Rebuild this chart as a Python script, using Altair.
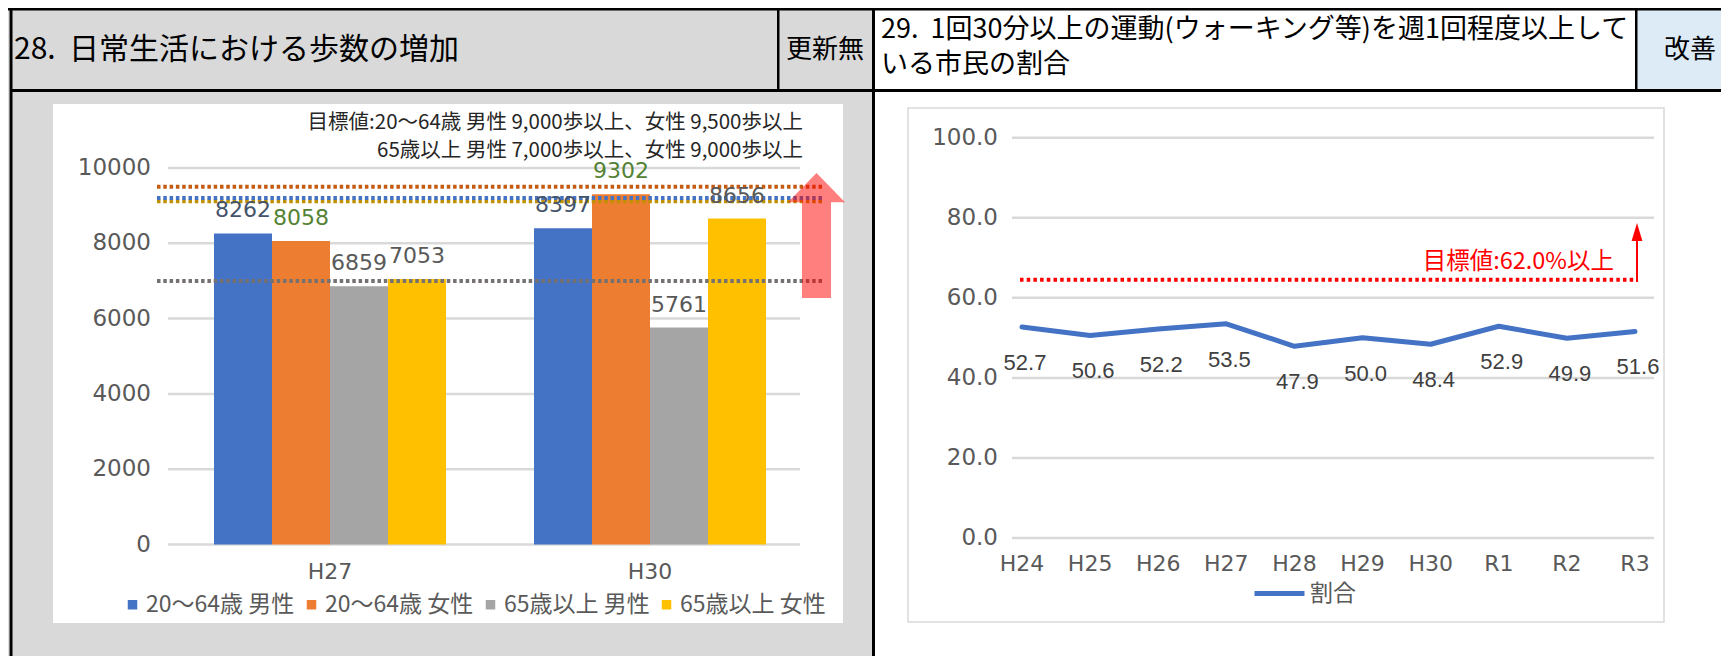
import altair as alt
import pandas as pd

# ---------------- texts ----------------
TITLE_LEFT = "28.\u00a0\u00a0日常生活における歩数の増加"
STATUS_LEFT = "更新無"
TITLE_RIGHT_1 = "29.\u00a0\u00a01回30分以上の運動(ウォーキング等)を週1回程度以上して"
TITLE_RIGHT_2 = "いる市民の割合"
STATUS_RIGHT = "改善"
NOTE_LEFT_1 = "目標値:20～64歳 男性 9,000歩以上、女性 9,500歩以上"
NOTE_LEFT_2 = "65歳以上 男性 7,000歩以上、女性 9,000歩以上"
NOTE_RIGHT = "目標値:62.0%以上"

# ---------------- left chart data ----------------
bar_years = ["H27", "H30"]
bar_series = ["20～64歳 男性", "20～64歳 女性", "65歳以上 男性", "65歳以上 女性"]
steps_h27 = [8262, 8058, 6859, 7053]
steps_h30 = [8397, 9302, 5761, 8656]
bar_colors = ["#4472c4", "#ed7d31", "#a5a5a5", "#ffc000"]
bar_label_colors = ["#44546a", "#548235", "#595959", "#595959"]
step_ticks = [0, 2000, 4000, 6000, 8000, 10000]
# dotted target lines as drawn (orange, gold, blue, gray)
step_target_values = [9500, 9120, 9200, 7000]
step_target_colors = ["#c55a11", "#bf9000", "#4472c4", "#767171"]

# ---------------- right chart data ----------------
line_years = ["H24", "H25", "H26", "H27", "H28", "H29", "H30", "R1", "R2", "R3"]
line_values = [52.7, 50.6, 52.2, 53.5, 47.9, 50.0, 48.4, 52.9, 49.9, 51.6]
line_series = ["割合"]
line_ticks = [0, 20, 40, 60, 80, 100]
line_target_drawn = [64.5]

FONT_JP = "Noto Sans CJK JP"
FONT_NUM = "DejaVu Sans"
FONT_LBL = "Liberation Sans"
W, H = 1713, 648

one = pd.DataFrame({"k": [0]})


def rect(x, x2, y, y2, **kw):
    return alt.Chart(one).mark_rect(**kw).encode(
        x=alt.value(x), x2=alt.value(x2), y=alt.value(y), y2=alt.value(y2))


def label(text, x, y, **kw):
    return alt.Chart(one).mark_text(text=text, **kw).encode(
        x=alt.value(x), y=alt.value(y))


# ---------------- frames ----------------
df_bars = pd.DataFrame({
    "year": [bar_years[0]] * 4 + [bar_years[1]] * 4,
    "series": bar_series * 2,
    "steps": steps_h27 + steps_h30,
    "lc": bar_label_colors * 2,
})
df_step_ticks = pd.DataFrame({"tick": step_ticks})
df_step_targets = pd.DataFrame({"target": step_target_values, "tc": step_target_colors})
df_bar_years = pd.DataFrame({"year": bar_years})

df_line = pd.DataFrame({"year": line_years, "value": line_values,
                        "name": line_series * len(line_years)})
df_line_ticks = pd.DataFrame({"tick": line_ticks})
df_line_years = pd.DataFrame({"year": line_years})
df_line_target = pd.DataFrame({"target": line_target_drawn})

# ---------------- decorations ----------------
decor = [
    rect(2, 867, 0, H, fill="#d9d9d9", strokeWidth=0),
    rect(1629, W, 0, 83, fill="#ddebf7", strokeWidth=0),
    rect(45, 835, 96, 615, fill="white", strokeWidth=0),
    rect(900, 1656, 100, 614, fill="white", stroke="#d9d9d9", strokeWidth=1.5),
    rect(0, W, 0, 2.5, fill="black", strokeWidth=0),
    rect(1.5, 4.5, 0, H, fill="black", strokeWidth=0),
    rect(2, W, 81, 84, fill="black", strokeWidth=0),
    rect(769, 771.5, 0, 83, fill="black", strokeWidth=0),
    rect(864, 867, 0, H, fill="black", strokeWidth=0),
    rect(1627, 1629.5, 0, 83, fill="black", strokeWidth=0),
    label(TITLE_LEFT, 6, 42, align="left", baseline="middle", fontSize=30, font=FONT_JP, color="#000000"),
    label(STATUS_LEFT, 817, 42, align="center", baseline="middle", fontSize=26, font=FONT_JP, color="#000000"),
    label(TITLE_RIGHT_1, 873, 22, align="left", baseline="middle", fontSize=27, font=FONT_JP, color="#000000"),
    label(TITLE_RIGHT_2, 873, 57, align="left", baseline="middle", fontSize=27, font=FONT_JP, color="#000000"),
    label(STATUS_RIGHT, 1682, 42, align="center", baseline="middle", fontSize=26, font=FONT_JP, color="#000000"),
]

# ---------------- left chart ----------------
xs_l = alt.Scale(domain=bar_years, range=[162, 802], paddingInner=0.275, paddingOuter=0.1375)
ys_l = alt.Scale(domain=[0, 10000], range=[536.5, 160], nice=False, zero=True)
xo_l = alt.Scale(domain=bar_series, paddingInner=0, paddingOuter=0)

grid_l = alt.Chart(df_step_ticks).mark_rule(color="#d9d9d9", strokeWidth=2.5).encode(
    y=alt.Y("tick:Q", scale=ys_l, axis=None), x=alt.value(160), x2=alt.value(792))
ticks_l = alt.Chart(df_step_ticks).mark_text(
    align="right", baseline="middle", font=FONT_NUM, fontSize=23, color="#595959").encode(
    y=alt.Y("tick:Q", scale=ys_l, axis=None), x=alt.value(143),
    text=alt.Text("tick:Q", format="d"))
bars = alt.Chart(df_bars).mark_bar(strokeWidth=0).encode(
    x=alt.X("year:N", scale=xs_l, axis=None),
    xOffset=alt.XOffset("series:N", scale=xo_l),
    y=alt.Y("steps:Q", scale=ys_l, axis=None),
    color=alt.Color("series:N", scale=alt.Scale(domain=bar_series, range=bar_colors),
                    legend=alt.Legend(orient="none", legendX=113, legendY=585, direction="horizontal",
                                      title=None, symbolType="square", symbolSize=90,
                                      symbolStrokeWidth=0, labelFont=FONT_JP, labelFontSize=23,
                                      labelColor="#595959", columnPadding=5, labelOffset=2,
                                      padding=0)),
)
bar_labels = alt.Chart(df_bars).mark_text(
    font=FONT_NUM, fontSize=22, baseline="alphabetic", dy=-16).encode(
    x=alt.X("year:N", scale=xs_l, axis=None),
    xOffset=alt.XOffset("series:N", scale=xo_l),
    y=alt.Y("steps:Q", scale=ys_l, axis=None),
    text=alt.Text("steps:Q", format="d"),
    color=alt.Color("lc:N", scale=None),
)
targets_l = alt.Chart(df_step_targets).mark_rule(strokeWidth=4, strokeDash=[3.5, 2.8], strokeCap="butt").encode(
    y=alt.Y("target:Q", scale=ys_l, axis=None), x=alt.value(149), x2=alt.value(815),
    stroke=alt.Stroke("tc:N", scale=None))
cats_l = alt.Chart(df_bar_years).mark_text(
    font=FONT_NUM, fontSize=22, color="#595959", baseline="middle").encode(
    x=alt.X("year:N", scale=xs_l, axis=None), y=alt.value(564), text="year:N")
arrow_path = "M0,-2.19 L1,-1.17 L0.51,-1.17 L0.51,2.19 L-0.51,2.19 L-0.51,-1.17 L-1,-1.17 Z"
big_arrow = alt.Chart(one).mark_point(shape=arrow_path, size=3249, filled=True,
                                      color="#ff0000", opacity=0.5, strokeWidth=0).encode(
    x=alt.value(808.5), y=alt.value(227.5))
notes_l = [
    label(NOTE_LEFT_1, 795, 115, align="right", baseline="middle", fontSize=20.5, font=FONT_JP, color="#262626"),
    label(NOTE_LEFT_2, 795, 143, align="right", baseline="middle", fontSize=20.5, font=FONT_JP, color="#262626"),
]
left = alt.layer(grid_l, ticks_l, bars, targets_l, bar_labels, cats_l, big_arrow, *notes_l)

# ---------------- right chart ----------------
xs_r = alt.Scale(type="point", domain=line_years, range=[1014, 1627], padding=0)
ys_r = alt.Scale(domain=[0, 100], range=[530, 129.7], nice=False, zero=True)

grid_r = alt.Chart(df_line_ticks).mark_rule(color="#d9d9d9", strokeWidth=2.5).encode(
    y=alt.Y("tick:Q", scale=ys_r, axis=None), x=alt.value(1004), x2=alt.value(1646))
ticks_r = alt.Chart(df_line_ticks).mark_text(
    align="right", baseline="middle", font=FONT_NUM, fontSize=23, color="#595959").encode(
    y=alt.Y("tick:Q", scale=ys_r, axis=None), x=alt.value(990),
    text=alt.Text("tick:Q", format=".1f"))
line = alt.Chart(df_line).mark_line(strokeWidth=5, strokeCap="round", strokeJoin="round").encode(
    x=alt.X("year:N", scale=xs_r, axis=None, sort=None),
    y=alt.Y("value:Q", scale=ys_r, axis=None),
    color=alt.Color("name:N", scale=alt.Scale(domain=line_series, range=["#4472c4"]),
                    legend=alt.Legend(orient="none", legendX=1244, legendY=558, title=None,
                                      symbolType="stroke", symbolSize=2500, symbolStrokeWidth=5,
                                      labelFont=FONT_JP, labelFontSize=23, labelColor="#595959",
                                      labelOffset=3, padding=0)),
)
line_labels = alt.Chart(df_line).mark_text(
    font=FONT_LBL, fontSize=22, color="#404040", baseline="middle", dy=36, dx=3).encode(
    x=alt.X("year:N", scale=xs_r, axis=None, sort=None),
    y=alt.Y("value:Q", scale=ys_r, axis=None),
    text=alt.Text("value:Q", format=".1f"))
cats_r = alt.Chart(df_line_years).mark_text(
    font=FONT_NUM, fontSize=22, color="#595959", baseline="middle").encode(
    x=alt.X("year:N", scale=xs_r, axis=None, sort=None), y=alt.value(556), text="year:N")
target_r = alt.Chart(df_line_target).mark_rule(
    strokeWidth=4, strokeDash=[3.5, 3.2], strokeCap="butt", color="#ff0000").encode(
    y=alt.Y("target:Q", scale=ys_r, axis=None), x=alt.value(1012), x2=alt.value(1629))
arrow_shaft = alt.Chart(one).mark_rule(color="#ff0000", strokeWidth=2).encode(
    x=alt.value(1629), y=alt.value(274), y2=alt.value(228))
arrow_head = alt.Chart(one).mark_point(shape="M0,-1 L0.6,1 L-0.6,1 Z", size=324, filled=True,
                                       color="#ff0000", opacity=1, strokeWidth=0).encode(
    x=alt.value(1629), y=alt.value(224))
note_r = label(NOTE_RIGHT, 1606, 254, align="right", baseline="middle", fontSize=23.5,
               font=FONT_JP, color="#ff0000")
right = alt.layer(grid_r, ticks_r, target_r, line, line_labels, cats_r, arrow_shaft, arrow_head, note_r)

chart = alt.layer(*decor, left, right).resolve_scale(
    x="independent", y="independent", color="independent"
).resolve_legend(color="independent").properties(
    width=W, height=H, padding=0, autosize=alt.AutoSizeParams(type="none"), background="white"
).configure_view(stroke=None).configure(font=FONT_JP)

chart.save("out.html", embed_options={"renderer": "svg", "actions": False})
